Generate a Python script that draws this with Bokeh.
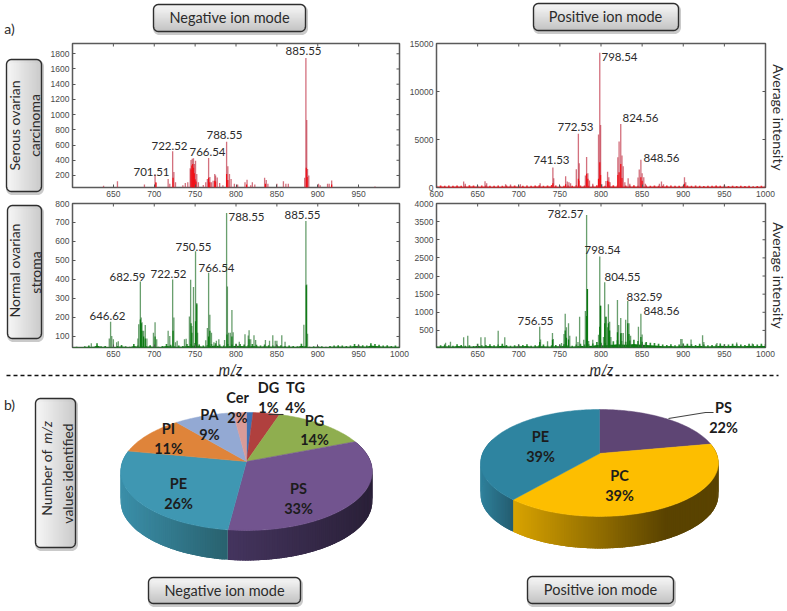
import math
from bokeh.core.properties import value
from bokeh.embed import file_html
from bokeh.models import FixedTicker, LinearAxis, Pane, Range1d
from bokeh.plotting import figure
from bokeh.resources import INLINE

# ---------- data ----------
neg_tumor_mz = [638,655,688,701,702,717,719,722.5,724,726,735,738,741,744,745,746.5,748,749,750.5,752,754,760,763,765,766.5,768,770,772,774,775,777,780,784,788.5,790,792,794,798,802,811,813.5,818,820,823,835,837,839,850,858,861,864,884,885.5,886.5,887.5,889,901,903,912,914,917,970]
neg_tumor_h = [64,125,80,213,100,155,90,520,245,110,70,100,110,295,405,420,425,350,395,220,110,75,110,155,430,180,110,130,220,200,175,100,70,645,320,220,155,90,80,110,145,70,110,80,170,140,90,90,125,90,90,170,1745,930,285,200,90,70,90,90,135,55]
neg_tumor_core_mz = [702,723,745,746,747,748,749,750,751,766.5,768,774,775,788.5,790,813,836,886,887,917]
neg_tumor_core_h = [110,170,280,330,350,300,230,150,120,170,110,130,120,220,140,80,90,300,180,80]

pos_tumor_mz = [633,635,659,661,684,690,702,726,741.5,742.5,757,759,761,763,770,772.5,773.5,781,782.5,784,786,790,797,798.5,799.5,801,806,808,809.5,811,820.5,822,824,825.5,827,829,833,835,845,846.5,848.5,850,852,854,871,873.5,876,901.5,903,950]
pos_tumor_h = [620,400,660,450,350,320,340,450,2080,970,1180,620,550,450,1900,5610,2530,1250,3190,1490,730,400,5510,14030,6510,350,690,1630,1070,550,3150,4780,6620,3330,2220,550,970,400,1040,1870,2880,1490,1070,400,400,620,350,1070,550,310]
pos_tumor_core_mz = [741.5,757,772.5,773,782.5,784,797,798.5,799.5,808,809.5,820.5,822,824,825.5,848.5,850,901.5]
pos_tumor_core_h = [450,350,900,700,1420,900,900,2630,1300,700,600,1300,1590,2460,1000,1070,700,400]
pos_tumor_grass = [190,220,170,200,180,210,170,190,230,210,180,200,210,170,190,200,180,220,190,210,180,170,200,190,220,230,190,210,260,200,190,170,210,190,230,200,220,170,200,240,260,190,210,230,200,180,210,200,230,190,220,200,180,210,170,190,220,200,180,170,190,210,180,200,170,160,190,170,210,180,170,150,190,160,180,150,170,140,160,170,190]

neg_normal_mz = [623,645,646.6,648,650,654,656,680,681,683,684,685,687,689,691,699,701,703,717,719,722.5,724,726,728,737,739,743,744.5,746,748,750.5,752,753,763,765,766.5,768,770,773,776,779,786,788.5,789.5,791,793,795,796.5,804,811,815,816,818,822,824,836,841,845,848,850,856,860,883,885.5,886.5,887.5]
neg_normal_h = [65,90,178,103,85,70,75,90,165,390,200,175,130,160,90,120,175,85,130,103,400,200,70,78,85,88,205,398,155,360,548,276,120,80,145,435,215,120,70,78,85,82,750,363,120,120,240,122,72,112,105,133,85,107,82,82,78,107,78,78,107,72,162,708,373,115]
neg_normal_core_mz = [683,684,685,687,689,701,723,745,746,750.5,752,766.5,768,789,795,816,886]
neg_normal_core_h = [190,170,130,100,90,100,130,170,120,180,270,100,130,110,100,85,370]
neg_normal_grass = [44,46,45,48,52,46,64,48,50,44,46,50,55,48,46,60,52,48,50,54,48,46,50,60,56,48,52,50,60,60,66,58,52,55,60,64,58,52,60,58,62,60,58,54,60,56,52,58,54,52,56,54,50,52,50,48,62,50,46,48,50,48,46,50,52,54,52,50,52,60,56,54,52,64,60,56,52,54,50,52,48]

pos_normal_mz = [611,617,633,638,654,659,675,683,725.5,726.5,735,741,742,752,755,756.5,758,760.5,762,770,772,774,779,781,782.5,783.5,785,790,797,798.5,799.5,803,804.5,806,808,809,810.5,812,820,821.5,824,825,827,830,832.5,834,836,845.5,848.5,850,854,897,898.5,909.5,923.5,925,941,965,984]
pos_normal_h = [160,186,315,350,315,315,490,315,600,250,200,430,260,150,400,960,590,700,350,330,180,880,240,1035,3680,1645,210,240,380,2540,1180,320,1830,880,590,1220,740,320,1340,650,840,430,430,795,1310,700,350,600,960,390,160,260,260,250,370,180,150,170,140]
pos_normal_core_mz = [725.5,741,756.5,758,760.5,782.5,783.5,798.5,799.5,804.5,806,809,810.5,820,824,832.5,834,848.5]
pos_normal_core_h = [180,240,500,300,250,900,1640,600,1180,700,880,700,500,450,420,700,400,320]
pos_normal_grass = [70,90,110,90,80,120,100,80,90,70,130,90,100,120,90,110,130,100,80,90,110,100,120,80,90,100,110,80,90,100,110,120,90,80,110,130,110,120,140,180,160,150,190,200,230,210,190,220,240,210,190,180,160,150,130,110,100,120,90,110,140,130,120,100,130,110,90,100,110,140,120,110,130,120,110,100,130,120,110,130,120]

grass_step_mz = list(range(600, 1001, 5))

x_tick_values = [600,650,700,750,800,850,900,950,1000]
tl_y_ticks = [200,400,600,800,1000,1200,1400,1600,1800]
tr_y_ticks = [0,5000,10000,15000]
bl_y_ticks = [100,200,300,400,500,600,700,800]
br_y_ticks = [500,1000,1500,2000,2500,3000,3500,4000]

tl_peak_labels = ["885.55","788.55","766.54","722.52","701.51"]
tr_peak_labels = ["798.54","824.56","772.53","741.53","848.56"]
bl_peak_labels = ["885.55","788.55","750.55","766.54","722.52","682.59","646.62"]
br_peak_labels = ["782.57","798.54","804.55","832.59","848.56","756.55"]

neg_classes = ["DG","TG","PG","PS","PE","PI","PA","Cer"]
neg_percent = [1,4,14,33,26,11,9,2]
pos_classes = ["PS","PC","PE"]
pos_percent = [22,39,39]

# ---------- styles and layout ----------
W, H = 787, 611
OFF = 0
TEXT = "Lato"
RED, RED_SOFT = "#f01018", "#c23a4c"
GREEN, GREEN_SOFT = "#0b7a12", "#2f7a36"


def blank(width, height, x0, y0, x1, y1):
    f = figure(width=width, height=height, x_range=Range1d(x0, x1), y_range=Range1d(y0, y1),
               output_backend="svg", toolbar_location=None, x_axis_location=None, y_axis_location=None,
               min_border=0, outline_line_color=None, background_fill_alpha=0, border_fill_alpha=0)
    f.grid.visible = False
    f.styles = {"position": "absolute", "left": f"{-OFF}px", "top": f"{-OFF}px"}
    return f


def mix(a, b, t):
    t = max(0.0, min(1.0, t))
    ca = [int(a[i:i + 2], 16) for i in (1, 3, 5)]
    cb = [int(b[i:i + 2], 16) for i in (1, 3, 5)]
    return "#%02x%02x%02x" % tuple(round(p + (q - p) * t) for p, q in zip(ca, cb))


def button(f, x0, y0, x1, y1, vertical_gradient=True, r=5):
    steps = 10
    path = [(x1 - r + r * math.sin(i / steps * math.pi / 2), y0 + r - r * math.cos(i / steps * math.pi / 2)) for i in range(steps + 1)]
    path += [(x1 - r + r * math.cos(i / steps * math.pi / 2), y1 - r + r * math.sin(i / steps * math.pi / 2)) for i in range(steps + 1)]
    path += [(x0 + r - r * math.sin(i / steps * math.pi / 2), y1 - r + r * math.cos(i / steps * math.pi / 2)) for i in range(steps + 1)]
    path += [(x0 + r - r * math.cos(i / steps * math.pi / 2), y0 + r - r * math.sin(i / steps * math.pi / 2)) for i in range(steps + 1)]
    path.append(path[0])
    xs, ys = zip(*path)
    f.line([x + 1 for x in xs], [y + 2 for y in ys], line_color="#8a8a8a", line_alpha=0.45, line_width=3)
    L, R, T, B, C = [], [], [], [], []
    if vertical_gradient:
        n = int(y1 - y0)
        for i in range(n):
            y = y0 + i + 0.5
            d = max(0, (y0 + r) - y, y - (y1 - r))
            inset = r - math.sqrt(max(0, r * r - d * d))
            L.append(x0 + inset); R.append(x1 - inset); T.append(y0 + i); B.append(y0 + i + 1)
            C.append(mix("#f8f8f8", "#bdbdbd", i / n))
    else:
        n = int(x1 - x0)
        for i in range(n):
            x = x0 + i + 0.5
            d = max(0, (x0 + r) - x, x - (x1 - r))
            inset = r - math.sqrt(max(0, r * r - d * d))
            L.append(x0 + i); R.append(x0 + i + 1); T.append(y0 + inset); B.append(y1 - inset)
            C.append(mix("#f6f6f6", "#c6c6c6", i / n))
    f.quad(left=L, right=R, top=T, bottom=B, fill_color=C, line_color=C, line_width=0.5)
    f.line(xs, ys, line_color="#2e2e2e", line_width=1.4)


def proj(t, cx, ay, R, Hh, k, dy=0.0):
    u, v = math.sin(t), math.cos(t)
    s = 1 + k * v
    return cx + R * u / s, ay - Hh * v / s + dy


def pie(f, percents, colors, walls, cx, ay, R, Hh, k, depth):
    total = sum(percents)
    edges = [0.0]
    for p in percents:
        edges.append(edges[-1] + p / total * 2 * math.pi)
    for i, wall in enumerate(walls):
        if wall is None:
            continue
        t0, t1 = max(edges[i], wall["from"]), min(edges[i + 1], wall["to"])
        n = max(2, int(math.degrees(t1 - t0)))
        step = (t1 - t0) / n
        px, py, col = [], [], []
        for j in range(n):
            a = t0 + step * j
            b = min(t1, a + 2.5 * step)
            a1, a2 = proj(a, cx, ay, R, Hh, k), proj(b, cx, ay, R, Hh, k)
            b1, b2 = proj(a, cx, ay, R, Hh, k, depth), proj(b, cx, ay, R, Hh, k, depth)
            px.append([a1[0], a2[0], b2[0], b1[0]])
            py.append([a1[1], a2[1], b2[1], b1[1]])
            xm = proj(a + step / 2, cx, ay, R, Hh, k)[0]
            col.append(mix(wall["c0"], wall["c1"], (xm - wall["x0"]) / (wall["x1"] - wall["x0"])))
        f.patches(px, py, fill_color=col, line_color=None)
    for i, c in enumerate(colors):
        n = max(3, int(math.degrees(edges[i + 1] - edges[i])))
        pts = [proj(edges[i] + (edges[i + 1] - edges[i]) * j / n, cx, ay, R, Hh, k) for j in range(n + 1)]
        f.patch([cx] + [p[0] for p in pts], [ay] + [p[1] for p in pts], fill_color=c, line_color=c, line_width=0.5)


def spectrum(px0, py0, px1, py1, xr, yr, yticks, xlabels, mz, h, core_mz, core_h, soft, solid, grass=None):
    ml, mr, mt, mb = 40, 12, 8, 16
    f = figure(width=px1 - px0 + ml + mr, height=py1 - py0 + mt + mb, x_range=Range1d(*xr), y_range=Range1d(*yr),
               output_backend="svg", toolbar_location=None, min_border_left=ml, min_border_right=mr,
               min_border_top=mt, min_border_bottom=mb, background_fill_alpha=0, border_fill_alpha=0,
               outline_line_color="#5a5a5a", outline_line_width=1.5, x_axis_location=None, y_axis_location=None)
    f.grid.visible = False
    f.styles = {"position": "absolute", "left": f"{px0 - ml - OFF}px", "top": f"{py0 - mt - OFF}px"}
    base = yr[0] - 100
    if grass is not None:
        f.varea(x=grass_step_mz, y1=[base] * len(grass), y2=[yr[0] + (g - yr[0]) * 0.45 for g in grass], fill_color=solid)
        f.vbar(x=grass_step_mz, top=grass, bottom=base, width=2.0, fill_color=solid, fill_alpha=0.85, line_color=None)
    f.vbar(x=mz, top=h, bottom=base, width=1.6, fill_color=soft, fill_alpha=0.72, line_color=None)
    f.vbar(x=core_mz, top=core_h, bottom=base, width=1.5, fill_color=solid, line_color=None)

    def axis(ticker):
        return LinearAxis(ticker=ticker, axis_line_color=None, major_tick_line_color="#555555", major_tick_in=3,
                          major_tick_out=0, minor_tick_line_color=None, major_label_standoff=3,
                          major_label_text_color="#4a4a4a", major_label_text_font="Liberation Sans",
                          major_label_text_font_size="8.5px")
    f.add_layout(axis(FixedTicker(ticks=xlabels)), "below")
    f.add_layout(axis(FixedTicker(ticks=yticks)), "left")
    # inward ticks on the top and right edges, plus unlabelled bottom ticks
    dy = (yr[1] - yr[0]) * 3 / (py1 - py0)
    dx = (xr[1] - xr[0]) * 3 / (px1 - px0)
    f.segment(x0=x_tick_values, x1=x_tick_values, y0=[yr[1]] * 9, y1=[yr[1] - dy] * 9, line_color="#555555")
    f.segment(x0=[xr[1]] * len(yticks), x1=[xr[1] - dx] * len(yticks), y0=yticks, y1=yticks, line_color="#555555")
    rest = [v for v in x_tick_values if v not in xlabels]
    f.segment(x0=rest, x1=rest, y0=[yr[0]] * len(rest), y1=[yr[0] + dy] * len(rest), line_color="#555555")
    return f


# ---------- background: buttons, pies, dashed rule ----------
bg = blank(W, H, 0, 0, W, H)
bg.y_range = Range1d(H, 0)
for box in [(153, 4, 305, 31, True), (533, 3, 678, 30, True), (148, 577, 300, 603, True), (527, 576, 673, 603, True),
            (6, 59, 41, 191, False), (7, 205, 41, 338, False), (35, 398, 75, 547, False)]:
    button(bg, box[0], box[1], box[2], box[3], box[4])

neg_colors = ["#3f71b3", "#b0403e", "#8fae4f", "#72548f", "#3f97b2", "#df843a", "#93a9d3", "#d99b98"]
neg_walls = [None, None, None,
             dict(c0="#45355f", c1="#2a2038", x0=225, x1=372, **{"from": 1.0, "to": 4.2}),
             dict(c0="#3b8fa9", c1="#29626f", x0=120, x1=225, **{"from": 3.2, "to": 5.1}),
             None, None, None]
pie(bg, neg_percent, neg_colors, neg_walls, 246, 461, 124, 57.3, 0.169, 30)

pos_colors = ["#5e4574", "#fdbe00", "#2e84a0"]
pos_walls = [None,
             dict(c0="#dba500", c1="#5a4300", x0=510, x1=665, **{"from": 1.2, "to": 4.0}),
             dict(c0="#2f819c", c1="#245d70", x0=480, x1=512, **{"from": 3.8, "to": 5.0})]
pie(bg, pos_percent, pos_colors, pos_walls, 599, 453, 117, 51.8, 0.177, 32)

bg.line([268, 283], [414, 414], line_color="#333333", line_width=1.1)
bg.line([668, 705, 713], [418, 412, 412], line_color="#444444", line_width=1.1)
bg.line([6, 778], [375, 375], line_color="#111111", line_width=1.4, line_dash="4 3")

# ---------- the four spectra ----------
tl = spectrum(72, 43, 399, 187, (600, 1000), (42, 1935), tl_y_ticks, [650,700,750,800,850,900,950],
              neg_tumor_mz, neg_tumor_h, neg_tumor_core_mz, neg_tumor_core_h, RED_SOFT, RED)
tr = spectrum(436, 43, 765, 187, (600, 1000), (0, 15000), tr_y_ticks, x_tick_values,
              pos_tumor_mz, pos_tumor_h, pos_tumor_core_mz, pos_tumor_core_h, RED_SOFT, RED, pos_tumor_grass)
bl = spectrum(72, 203, 399, 347, (600, 1000), (42, 800), bl_y_ticks, x_tick_values[1:],
              neg_normal_mz, neg_normal_h, neg_normal_core_mz, neg_normal_core_h, GREEN_SOFT, GREEN, neg_normal_grass)
br = spectrum(436, 203, 765, 347, (600, 1000), (29, 4000), br_y_ticks, x_tick_values[1:],
              pos_normal_mz, pos_normal_h, pos_normal_core_mz, pos_normal_core_h, GREEN_SOFT, GREEN, pos_normal_grass)

# ---------- texts on top ----------
top = blank(W, H, 0, 0, W, H)
top.y_range = Range1d(H, 0)


def txt(items, size, color="#2b2b2b", style="normal", angle=0.0):
    xs, ys, ts = zip(*items)
    top.text(x=list(xs), y=list(ys), text=list(ts), angle=angle, text_font=value(TEXT), text_font_size=size,
             text_color=color, text_font_style=style, text_align="center", text_baseline="middle")


peak_pos = [(303,50),(224,134),(207,151),(169,145),(151,171)]
txt([(a, b, t) for (a, b), t in zip(peak_pos, tl_peak_labels)], "11.5px")
peak_pos = [(619,56),(640,117),(575,126),(551,159),(661,157)]
txt([(a, b, t) for (a, b), t in zip(peak_pos, tr_peak_labels)], "11.5px")
peak_pos = [(302,214),(246,216),(193,246),(216,267),(168,273),(127,276),(107,315)]
txt([(a, b, t) for (a, b), t in zip(peak_pos, bl_peak_labels)], "11.5px")
peak_pos = [(565,213),(602,249),(622,276),(644,296),(661,310),(535,320)]
txt([(a, b, t) for (a, b), t in zip(peak_pos, br_peak_labels)], "11.5px")

txt([(229, 17, "Negative ion mode"), (605, 16, "Positive ion mode"),
     (224, 590, "Negative ion mode"), (600, 589, "Positive ion mode")], "14.5px")
txt([(9, 28, "a)"), (9, 404, "b)")], "14px")
txt([(230, 369, "m/z"), (601, 369, "m/z")], "14.5px", style="italic")

txt([(14, 125, "Serous ovarian"), (34, 125, "carcinoma"), (14, 270, "Normal ovarian"), (35, 272, "stroma"),
     (46, 482, "Number of"), (67, 473, "values identified")], "14px", angle=math.pi / 2)
txt([(46, 432, "m/z")], "14px", style="italic", angle=math.pi / 2)
txt([(778, 117, "Average intensity"), (778, 275, "Average intensity")], "14px", angle=-math.pi / 2)

neg_pos = {"DG": (268, 387, 407), "TG": (295, 387, 407), "PG": (314, 420, 439), "PS": (298, 488, 508),
           "PE": (178, 483, 503), "PI": (168, 428, 448), "PA": (209, 414, 434), "Cer": (237, 397, 417)}
items = []
for c, v in zip(neg_classes, neg_percent):
    x, y1, y2 = neg_pos[c]
    items += [(x, y1, c), (x, y2, f"{v}%")]
txt(items, "14.5px", color="#1c1c1c", style="bold")

pos_pos = {"PS": (723, 407, 427), "PC": (619, 475, 495), "PE": (540, 436, 456)}
items = []
for c, v in zip(pos_classes, pos_percent):
    x, y1, y2 = pos_pos[c]
    items += [(x, y1, c), (x, y2, f"{v}%")]
txt(items, "14.5px", color="#1c1c1c", style="bold")

root = Pane(elements=[bg, tl, tr, bl, br, top], styles={"position": "relative", "width": f"{W - 16}px", "height": f"{H - 16}px"})
open("out.html", "w").write(file_html(root, INLINE))
